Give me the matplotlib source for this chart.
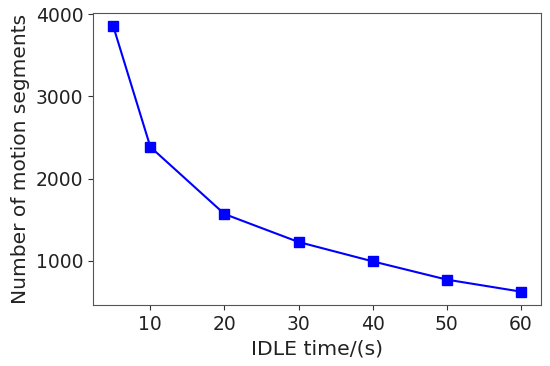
import matplotlib
matplotlib.use("Agg")
import matplotlib.pyplot as plt

# tempo de IDLE (s) e numero de segmentos
idle_time = [5, 10, 20, 30, 40, 50, 60]
n_segments = [3850, 2385, 1570, 1230, 995, 773, 627]

fig, ax = plt.subplots(figsize=(5.5, 3.66), dpi=100)

ax.plot(idle_time, n_segments, color="blue", marker="s", markersize=7,
        linewidth=1.5)

ax.set_xticks([10, 20, 30, 40, 50, 60])
ax.set_yticks([1000, 2000, 3000, 4000])
ax.tick_params(labelsize=13.5, colors="#333333", labelcolor="#222222")
for sp in ax.spines.values():
    sp.set_color("#555555")
ax.set_xlabel("IDLE time/(s)", fontsize=14.7, color="#222222")
ax.set_ylabel("Number of motion segments", fontsize=14.5, color="#222222")

fig.subplots_adjust(left=0.169, right=0.984, top=0.964, bottom=0.167)
fig.savefig("out.png", dpi=100)
